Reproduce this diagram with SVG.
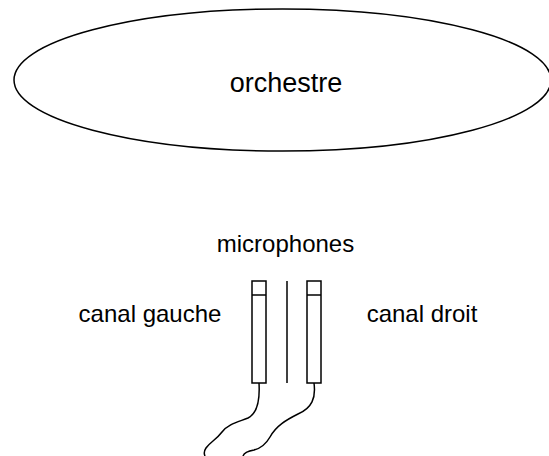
<svg xmlns="http://www.w3.org/2000/svg" width="549" height="456" viewBox="0 0 549 456">
<style>
.t{font-family:"Liberation Sans",Arial,sans-serif;fill:#000;text-anchor:middle}
.s{fill:none;stroke:#000;stroke-width:1.5}
.m{fill:#fff;stroke:#000;stroke-width:1.5}
</style>
<rect width="549" height="456" fill="#fff"/>
<g id="orchestre">
<ellipse class="s" cx="282.5" cy="80" rx="268.5" ry="71"/>
<text class="t" x="286" y="92" font-size="27">orchestre</text>
</g>
<g id="microphones">
<text class="t" x="285.5" y="252" font-size="24">microphones</text>
<rect class="m" x="252" y="281" width="14" height="102"/>
<line class="s" x1="252" y1="295" x2="266" y2="295"/>
<line class="s" x1="287" y1="281" x2="287" y2="383"/>
<rect class="m" x="307" y="281" width="14" height="102"/>
<line class="s" x1="307" y1="295" x2="321" y2="295"/>
</g>
<g id="canal-gauche">
<text class="t" x="150" y="322" font-size="24">canal gauche</text>
</g>
<g id="canal-droit">
<text class="t" x="422" y="322" font-size="24">canal droit</text>
</g>
<g id="connectors">
<path class="s" d="M259,383 C260,400 258,413 248,418 C238,422 228,424 222,432 C216,440 210,442 206,448 C204,451 204,454 205,456"/>
<path class="s" d="M314,383 C316,398 312,408 298,414 C286,420 276,426 270,437 C266,444 262,448 254,450 C248,451 244,453 243,456"/>
</g>
</svg>
